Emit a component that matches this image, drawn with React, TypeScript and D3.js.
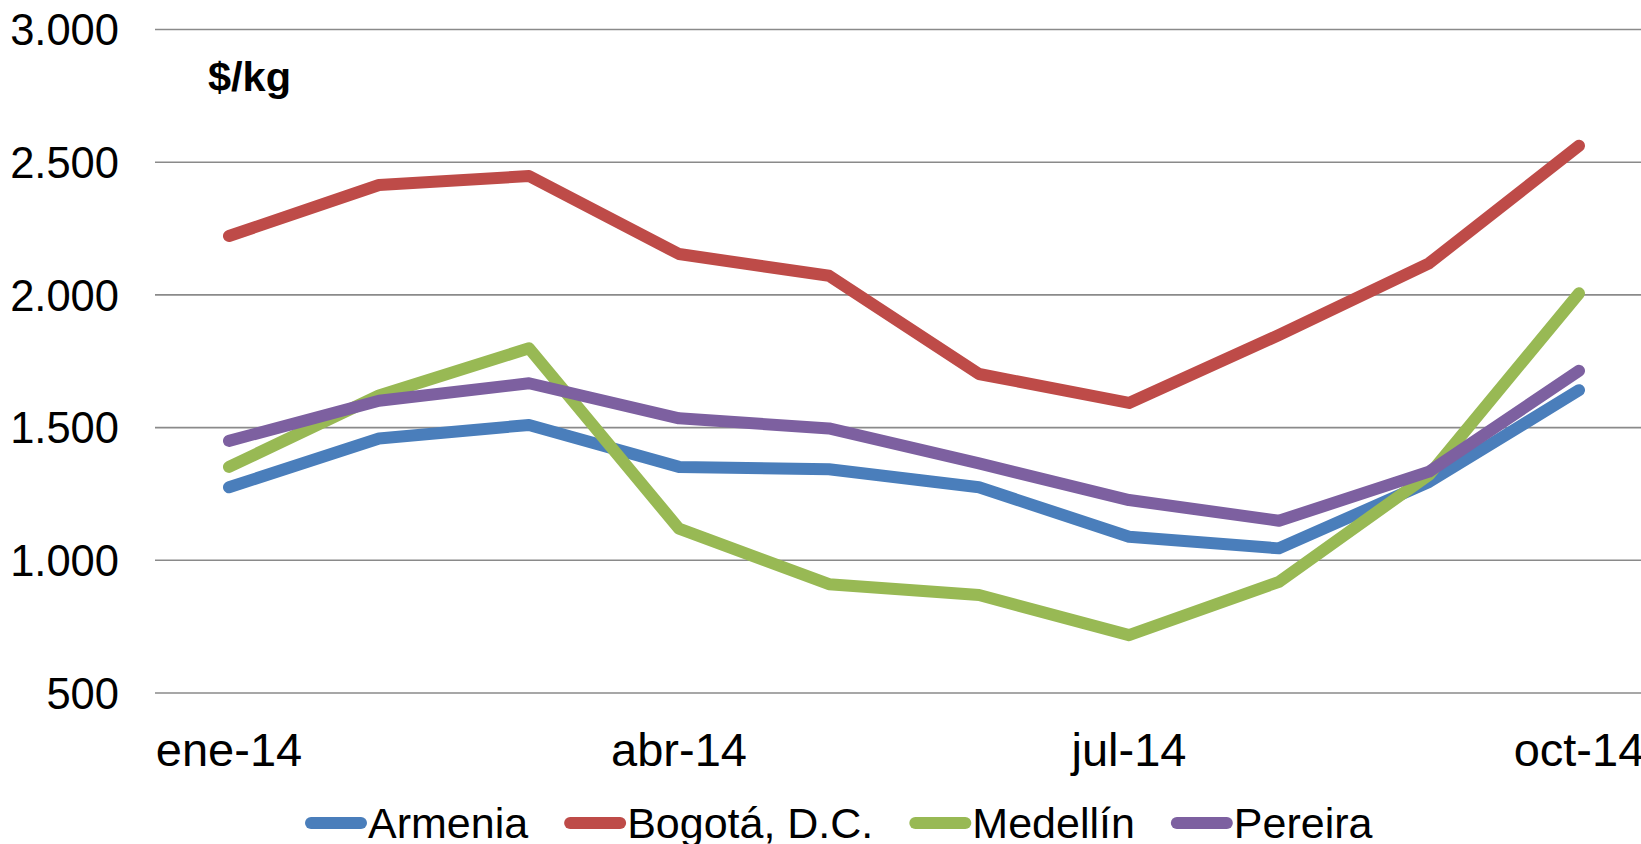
import React, { useEffect, useRef } from "react";
import { formatLocale, line, scaleBand, scaleLinear, select } from "d3";

const months = ["ene-14", "feb-14", "mar-14", "abr-14", "may-14", "jun-14", "jul-14", "ago-14", "sep-14", "oct-14"];
const shownMonths = ["ene-14", "abr-14", "jul-14", "oct-14"];
const yTicks = [500, 1000, 1500, 2000, 2500, 3000];

const armenia = [1275, 1459, 1510, 1352, 1343, 1275, 1089, 1045, 1295, 1641];
const bogota = [2222, 2414, 2448, 2154, 2072, 1702, 1593, 1849, 2119, 2562];
const medellin = [1352, 1621, 1799, 1119, 910, 869, 718, 919, 1322, 2006];
const pereira = [1450, 1601, 1667, 1535, 1497, 1365, 1227, 1149, 1334, 1714];

const seriesNames = ["Armenia", "Bogotá, D.C.", "Medellín", "Pereira"];
const seriesColors = ["#4A7EBB", "#BE4B48", "#98B954", "#7D60A0"];

const W = 1641;
const H = 844;
const FONT = "'Liberation Sans', Arial, sans-serif";

const App = () => {
  const svgRef = useRef<SVGSVGElement>(null);

  useEffect(() => {
    document.body.style.margin = "0";
    document.body.style.overflow = "hidden";
    drawChart();
  }, []);

  const drawChart = () => {
    const svg = select(svgRef.current);
    svg.selectAll("*").remove();

    const allSeries = [armenia, bogota, medellin, pereira];

    // category axis: plot area runs past the right edge (cropped like the original)
    const xScale = scaleBand().domain(months).range([154, 1654]).padding(0);
    const xCenter = (m: string) => (xScale(m) as number) + xScale.bandwidth() / 2;
    const yScale = scaleLinear().domain([500, 3000]).range([693, 29.5]);

    const fmt = formatLocale({ decimal: ",", thousands: ".", grouping: [3], currency: ["$", ""] }).format(",");

    // gridlines
    svg
      .append("g")
      .selectAll("line")
      .data(yTicks)
      .join("line")
      .attr("x1", 155)
      .attr("x2", 1654)
      .attr("y1", (d) => yScale(d))
      .attr("y2", (d) => yScale(d))
      .attr("stroke", "#8a8a8a")
      .attr("stroke-width", 1.6);

    // y tick labels
    svg
      .append("g")
      .selectAll("text")
      .data(yTicks)
      .join("text")
      .attr("x", 119)
      .attr("y", (d) => yScale(d))
      .attr("dy", "0.36em")
      .attr("text-anchor", "end")
      .attr("font-family", FONT)
      .attr("font-size", 43.5)
      .attr("fill", "#000")
      .text((d) => fmt(d));

    // x tick labels
    svg
      .append("g")
      .selectAll("text")
      .data(shownMonths)
      .join("text")
      .attr("x", (d) => xCenter(d))
      .attr("y", 766)
      .attr("text-anchor", "middle")
      .attr("font-family", FONT)
      .attr("font-size", 47)
      .attr("fill", "#000")
      .text((d) => d);

    // unit label
    svg
      .append("text")
      .attr("x", 208)
      .attr("y", 91)
      .attr("font-family", FONT)
      .attr("font-size", 41.5)
      .attr("font-weight", "bold")
      .attr("fill", "#000")
      .text("$/kg");

    // series lines
    const lineGen = line<number>()
      .x((d, i) => xCenter(months[i]))
      .y((d) => yScale(d));

    svg
      .append("g")
      .selectAll("path")
      .data(allSeries)
      .join("path")
      .attr("d", (d) => lineGen(d))
      .attr("fill", "none")
      .attr("stroke", (d, i) => seriesColors[i])
      .attr("stroke-width", 12)
      .attr("stroke-linecap", "round")
      .attr("stroke-linejoin", "round");

    // legend
    const legend = svg.append("g");
    let lx = 311;
    const ly = 823;
    seriesNames.forEach((name, i) => {
      legend
        .append("line")
        .attr("x1", lx)
        .attr("x2", lx + 50)
        .attr("y1", ly)
        .attr("y2", ly)
        .attr("stroke", seriesColors[i])
        .attr("stroke-width", 12)
        .attr("stroke-linecap", "round");
      const t = legend
        .append("text")
        .attr("x", lx + 57)
        .attr("y", 838)
        .attr("font-family", FONT)
        .attr("font-size", 43)
        .attr("fill", "#000")
        .text(name);
      const w = (t.node() as SVGTextElement).getComputedTextLength();
      lx = lx + 57 + w + 42;
    });
  };

  return (
    <svg
      ref={svgRef}
      width={W}
      height={H}
      style={{ position: "absolute", left: 0, top: 0, background: "#fff", overflow: "hidden" }}
    />
  );
};

export default App;
